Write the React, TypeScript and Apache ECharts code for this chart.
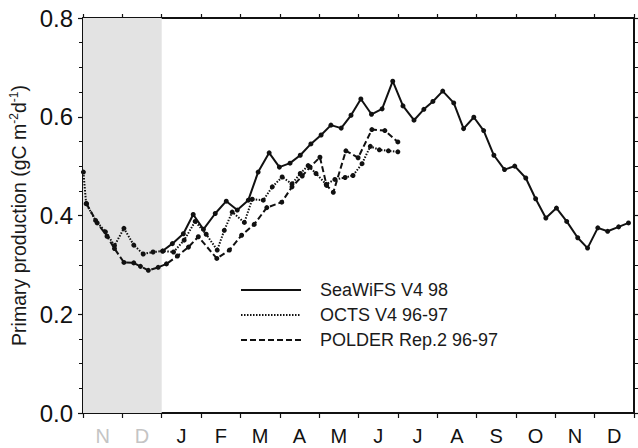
import React, { useEffect, useRef } from "react";
import * as echarts from "echarts";

// Month labels (Nov, Dec of previous year shaded, then Jan..Dec)
const monthLabels = ["N", "D", "J", "F", "M", "A", "M", "J", "J", "A", "S", "O", "N", "D"];
const yTicks = [0, 0.2, 0.4, 0.6, 0.8];

// x positions are in months since 1 November
const seawifsX = [2.02, 2.27, 2.55, 2.8, 3.06, 3.36, 3.64, 3.92, 4.2, 4.45, 4.73, 4.99, 5.26, 5.52, 5.79, 6.05, 6.3, 6.56, 6.81, 7.06, 7.33, 7.6, 7.87, 8.13, 8.41, 8.66, 8.89, 9.14, 9.42, 9.67, 9.93, 10.18, 10.44, 10.71, 10.97, 11.25, 11.5, 11.76, 12.03, 12.29, 12.57, 12.82, 13.08, 13.33, 13.61, 13.86];
const seawifsY = [0.328, 0.343, 0.363, 0.402, 0.372, 0.404, 0.429, 0.411, 0.431, 0.488, 0.527, 0.498, 0.506, 0.522, 0.545, 0.563, 0.583, 0.577, 0.603, 0.636, 0.605, 0.616, 0.672, 0.622, 0.593, 0.615, 0.631, 0.652, 0.628, 0.576, 0.599, 0.572, 0.522, 0.493, 0.5, 0.476, 0.434, 0.395, 0.415, 0.388, 0.355, 0.334, 0.375, 0.368, 0.377, 0.385];

const octsX = [0.01, 0.08, 0.32, 0.57, 0.8, 1.04, 1.29, 1.53, 1.78, 2.03, 2.3, 2.57, 2.85, 3.13, 3.41, 3.59, 3.79, 4.1, 4.3, 4.58, 4.81, 5.06, 5.31, 5.52, 5.72, 5.92, 6.18, 6.4, 6.66, 6.86, 7.09, 7.3, 7.53, 7.76, 8.0];
const octsY = [0.488, 0.424, 0.39, 0.367, 0.339, 0.374, 0.34, 0.322, 0.326, 0.328, 0.326, 0.35, 0.388, 0.362, 0.33, 0.37, 0.407, 0.386, 0.433, 0.431, 0.458, 0.478, 0.464, 0.485, 0.501, 0.485, 0.463, 0.473, 0.477, 0.481, 0.505, 0.54, 0.533, 0.531, 0.529];

const polderX = [0.09, 0.36, 0.61, 0.8, 1.04, 1.29, 1.46, 1.66, 1.91, 2.12, 2.4, 2.68, 2.93, 3.4, 3.72, 4.03, 4.35, 4.67, 5.05, 5.31, 5.57, 5.77, 6.02, 6.19, 6.36, 6.68, 6.99, 7.34, 7.67, 8.0];
const polderY = [0.424, 0.385, 0.358, 0.333, 0.305, 0.304, 0.297, 0.289, 0.295, 0.302, 0.318, 0.336, 0.357, 0.313, 0.33, 0.36, 0.382, 0.416, 0.427, 0.458, 0.48, 0.498, 0.518, 0.461, 0.447, 0.531, 0.517, 0.574, 0.572, 0.549];

const seriesNames = ["SeaWiFS V4 98", "OCTS V4 96-97", "POLDER Rep.2 96-97"];
const shadedRange = [0, 2];

const FONT = "Liberation Sans";

const pair = (xs: number[], ys: number[]) => xs.map((x, i) => [x, ys[i]]);

export default function App() {
  const ref = useRef<HTMLDivElement>(null);
  useEffect(() => {
    if (!ref.current) return;
    const chart = echarts.init(ref.current, null, { renderer: "svg" });
    const lineCommon = {
      type: "line" as const,
      xAxisIndex: 0,
      yAxisIndex: 0,
      symbol: "circle",
      symbolSize: 5,
      itemStyle: { color: "#111" },
      z: 5,
    };
    chart.setOption({
      animation: false,
      backgroundColor: "#fff",
      grid: { left: 83, right: 4, top: 18, bottom: 35 },
      legend: {
        data: seriesNames,
        orient: "vertical",
        left: 240,
        top: 280,
        padding: 0,
        itemWidth: 60,
        itemHeight: 14,
        itemGap: 5,
        itemStyle: { opacity: 0 },
        textStyle: { fontFamily: FONT, fontSize: 18, lineHeight: 20, color: "#1a1a1a", padding: [0, 0, 0, 14] },
      },
      xAxis: [
        { type: "value", min: 0, max: 14, interval: 1, show: false },
        {
          type: "category",
          position: "bottom",
          data: monthLabels,
          boundaryGap: true,
          axisLine: { lineStyle: { color: "#111", width: 2 } },
          axisTick: { show: true, length: 5, inside: false, lineStyle: { color: "#111", width: 1.2 } },
          axisLabel: {
            fontFamily: FONT,
            fontSize: 20,
            margin: 13,
            color: (_v: any, i: number) => (i < 2 ? "#c4c4c4" : "#111"),
          },
          splitLine: { show: false },
        },
        {
          type: "category",
          position: "top",
          data: monthLabels,
          boundaryGap: true,
          axisLine: { lineStyle: { color: "#111", width: 2 } },
          axisTick: { show: true, length: 4, lineStyle: { color: "#111", width: 1.2 } },
          axisLabel: { show: false },
          splitLine: { show: false },
        },
      ],
      yAxis: [
        {
          type: "value",
          min: 0,
          max: 0.8,
          interval: 0.2,
          position: "left",
          name: "{a|Primary production (gC m}{s|-2}{a|d}{s|-1}{a|)}",
          nameLocation: "middle",
          nameRotate: 90,
          nameGap: 52,
          nameTextStyle: {
            rich: {
              a: { fontFamily: FONT, fontSize: 19.5, color: "#1a1a1a" },
              s: { fontFamily: FONT, fontSize: 12, color: "#1a1a1a", padding: [0, 0, 9, 0] },
            },
          },
          axisLine: { show: true, lineStyle: { color: "#111", width: 2 } },
          axisTick: { show: true, length: 5, lineStyle: { color: "#111", width: 1.2 } },
          minorTick: { show: true, splitNumber: 4, length: 4, lineStyle: { color: "#111", width: 1 } },
          axisLabel: {
            fontFamily: FONT,
            fontSize: 24,
            color: "#111",
            margin: 10,
            formatter: (v: number) => (yTicks.includes(Math.round(v * 10) / 10) ? v.toFixed(1) : ""),
          },
          splitLine: { show: false },
        },
        {
          type: "value",
          min: 0,
          max: 0.8,
          interval: 0.2,
          position: "right",
          axisLine: { show: true, lineStyle: { color: "#111", width: 2 } },
          axisTick: { show: true, length: 4, lineStyle: { color: "#111", width: 1.2 } },
          minorTick: { show: true, splitNumber: 4, length: 4, lineStyle: { color: "#111", width: 1 } },
          axisLabel: { show: false },
          splitLine: { show: false },
        },
      ],
      series: [
        {
          type: "line",
          name: "shade",
          xAxisIndex: 0,
          yAxisIndex: 0,
          data: [],
          z: 1,
          markArea: {
            silent: true,
            itemStyle: { color: "#e3e3e3" },
            data: [[{ xAxis: shadedRange[0] }, { xAxis: shadedRange[1] }]],
          },
        },
        {
          ...lineCommon,
          name: seriesNames[0],
          data: pair(seawifsX, seawifsY),
          lineStyle: { color: "#111", width: 2, type: "solid" },
        },
        {
          ...lineCommon,
          name: seriesNames[1],
          data: pair(octsX, octsY),
          lineStyle: { color: "#111", width: 2, type: [1.5, 1.5] },
        },
        {
          ...lineCommon,
          name: seriesNames[2],
          data: pair(polderX, polderY),
          lineStyle: { color: "#111", width: 2, type: [6, 3] },
        },
      ],
    });
    return () => chart.dispose();
  }, []);
  return (
    <div
      ref={ref}
      style={{ position: "fixed", left: 0, top: 0, width: 638, height: 448, background: "#fff" }}
    />
  );
}
